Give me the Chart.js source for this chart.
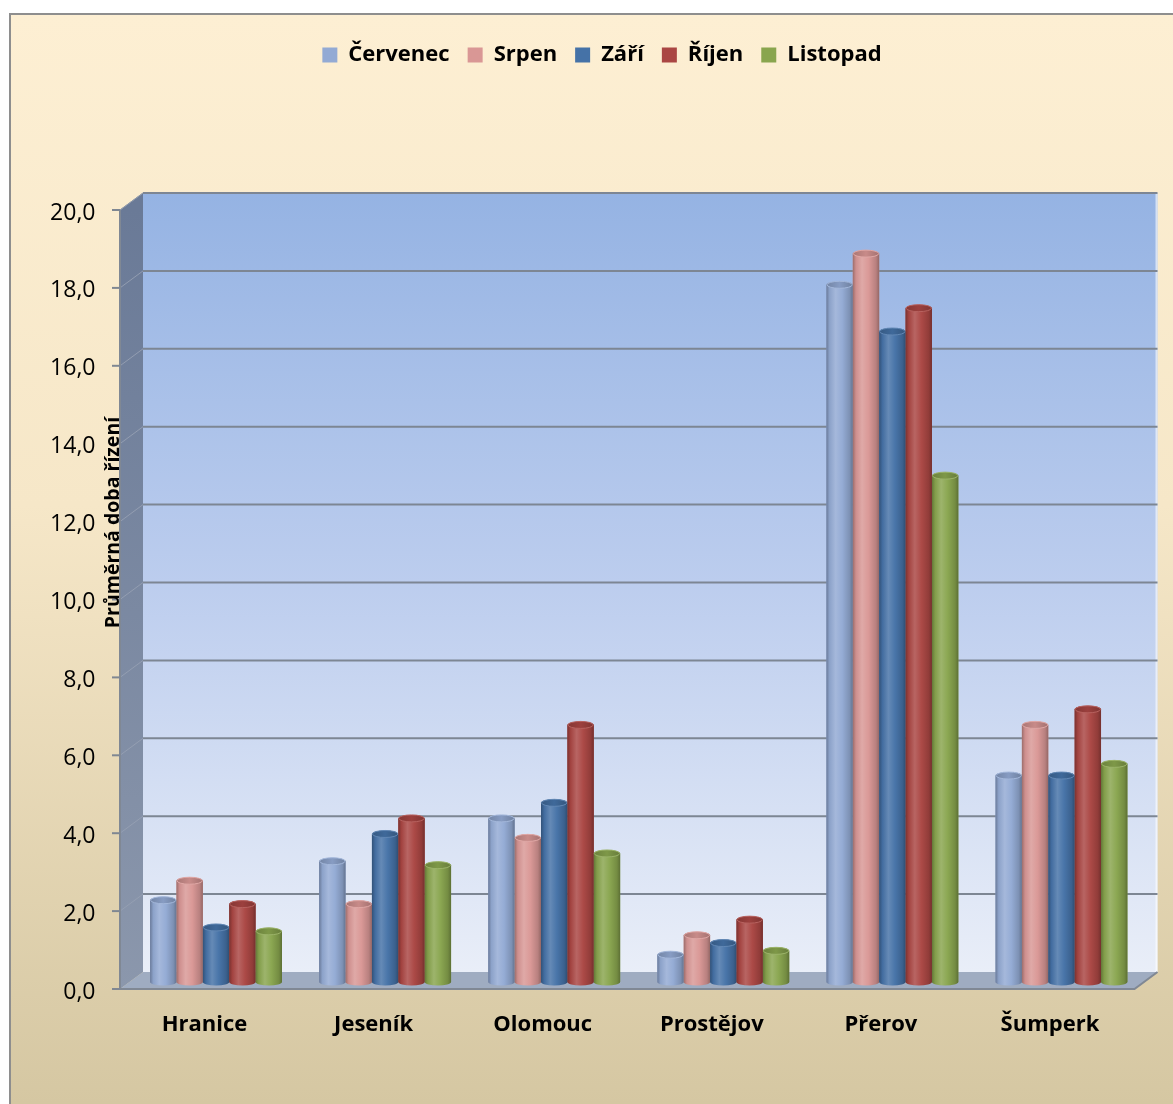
<!DOCTYPE html>
<html lang="cs">
<head>
<meta charset="utf-8">
<title>Průměrná doba řízení</title>
<script src="https://cdn.jsdelivr.net/npm/chart.js@4.4.1/dist/chart.umd.min.js"></script>
<style>
  html, body { margin: 0; padding: 0; background: #fff; }
  canvas { display: block; }
</style>
</head>
<body>
<canvas id="chart" width="1173" height="1104"></canvas>
<script>
// ---- data ----
const categories = ['Hranice', 'Jeseník', 'Olomouc', 'Prostějov', 'Přerov', 'Šumperk'];
const months = ['Červenec', 'Srpen', 'Září', 'Říjen', 'Listopad'];
const cervenec = [2.1, 3.1, 4.2, 0.7, 17.9, 5.3];
const srpen    = [2.6, 2.0, 3.7, 1.2, 18.7, 6.6];
const zari     = [1.4, 3.8, 4.6, 1.0, 16.7, 5.3];
const rijen    = [2.0, 4.2, 6.6, 1.6, 17.3, 7.0];
const listopad = [1.3, 3.0, 3.3, 0.8, 13.0, 5.6];
const yTicks = [0, 2, 4, 6, 8, 10, 12, 14, 16, 18, 20];
const axisTitle = 'Průměrná doba řízení';

// ---- styling ----
const FONT = "'Open Sans', 'DejaVu Sans', sans-serif";
const seriesColors = ['#93AAD4', '#D99795', '#4572A7', '#AA4643', '#89A54E'];
const DEPTH_X = 23;      // horizontal depth of the 3D box
const DEPTH_Y = 17;      // vertical depth of the 3D box
const BAR_SHIFT = 0.18;  // columns stand mid-depth, slightly above the front floor edge
const CAP_RY = 3.5;      // vertical radius of the column caps
const FRAME = { x: 10, y: 14 };
const LEGEND_CENTER_X = 602;

const fmt = v => v.toFixed(1).replace('.', ',');

function shade(hex, amt) {
  const n = parseInt(hex.slice(1), 16);
  const ch = [n >> 16, (n >> 8) & 255, n & 255];
  const t = amt < 0 ? 0 : 255, p = Math.abs(amt);
  const [r, g, b] = ch.map(c => Math.round(c + (t - c) * p));
  return `rgb(${r},${g},${b})`;
}

const seriesData = [cervenec, srpen, zari, rijen, listopad];

// Draws the 3D box (walls, floor, grid), the axis title and cylinder columns.
const scene3d = {
  id: 'scene3d',
  afterInit(chart) {
    const lg = chart.legend;
    if (!lg) return;
    const fit = lg.fit.bind(lg);
    lg.fit = function () { fit(); this.height = 184; };
  },
  afterLayout(chart) {
    const lg = chart.legend;
    if (!lg) return;
    const shift = LEGEND_CENTER_X - (lg.left + lg.right) / 2;
    lg.left += shift; lg.right += shift;
  },
  beforeDraw(chart) {
    const { ctx, chartArea: a, scales: { y } } = chart;
    const W = chart.width, H = chart.height;
    ctx.save();
    ctx.fillStyle = '#ffffff';
    ctx.fillRect(0, 0, W, H);

    // outer frame
    const bg = ctx.createLinearGradient(0, FRAME.y, 0, H);
    bg.addColorStop(0, '#FDEFD3');
    bg.addColorStop(0.45, '#F6E7C8');
    bg.addColorStop(1, '#D5C7A2');
    ctx.fillStyle = bg;
    ctx.fillRect(FRAME.x, FRAME.y, W, H);
    ctx.strokeStyle = '#8E8E8E';
    ctx.lineWidth = 2;
    ctx.strokeRect(FRAME.x, FRAME.y, W + 10, H + 10);

    const y0 = y.getPixelForValue(0), yTop = y.getPixelForValue(20);
    const fl = a.left - DEPTH_X / 2, bl = a.left + DEPTH_X / 2;
    const br = a.right + DEPTH_X / 2, fr = a.right - DEPTH_X / 2;

    // back wall
    const wg = ctx.createLinearGradient(0, yTop - DEPTH_Y, 0, y0 - DEPTH_Y);
    wg.addColorStop(0, '#95B3E3');
    wg.addColorStop(0.5, '#BCCDEE');
    wg.addColorStop(1, '#E9EEF8');
    ctx.fillStyle = wg;
    ctx.fillRect(bl, yTop - DEPTH_Y, br - bl, y0 - yTop);
    ctx.fillStyle = 'rgba(255,255,255,0.6)';
    ctx.fillRect(br - 2, yTop - DEPTH_Y, 2, y0 - yTop);

    // side wall
    const sg = ctx.createLinearGradient(0, yTop, 0, y0);
    sg.addColorStop(0, '#6A7A97');
    sg.addColorStop(1, '#8B97AC');
    ctx.fillStyle = sg;
    ctx.beginPath();
    ctx.moveTo(fl, yTop); ctx.lineTo(bl, yTop - DEPTH_Y);
    ctx.lineTo(bl, y0 - DEPTH_Y); ctx.lineTo(fl, y0);
    ctx.closePath(); ctx.fill();

    // floor
    ctx.fillStyle = '#9FACC1';
    ctx.beginPath();
    ctx.moveTo(fl, y0); ctx.lineTo(bl, y0 - DEPTH_Y);
    ctx.lineTo(br, y0 - DEPTH_Y); ctx.lineTo(fr, y0);
    ctx.closePath(); ctx.fill();

    // grid lines on the back wall, and their traces on the side wall
    yTicks.forEach(v => {
      const py = y.getPixelForValue(v);
      if (v > 0) {
        ctx.strokeStyle = '#7D8693';
        ctx.lineWidth = 2;
        ctx.beginPath();
        ctx.moveTo(bl, py - DEPTH_Y); ctx.lineTo(br, py - DEPTH_Y);
        ctx.stroke();
        ctx.strokeStyle = 'rgba(150,160,178,0.9)';
        ctx.lineWidth = 1;
        ctx.beginPath();
        ctx.moveTo(fl, py); ctx.lineTo(bl, py - DEPTH_Y);
        ctx.stroke();
      }
      // tick marks
      ctx.strokeStyle = '#7F8792';
      ctx.lineWidth = 2;
      ctx.beginPath();
      ctx.moveTo(fl - 8, py); ctx.lineTo(fl, py);
      ctx.stroke();
    });

    // box edges
    ctx.strokeStyle = '#808894';
    ctx.lineWidth = 2;
    ctx.beginPath();
    ctx.moveTo(fl, yTop); ctx.lineTo(fl, y0); ctx.lineTo(fr, y0); ctx.lineTo(br, y0 - DEPTH_Y);
    ctx.stroke();
    ctx.strokeStyle = 'rgba(140,150,165,0.9)';
    ctx.lineWidth = 1;
    ctx.beginPath();
    ctx.moveTo(fl, yTop); ctx.lineTo(bl, yTop - DEPTH_Y);
    ctx.stroke();

    // axis title
    ctx.translate(119, 522.5);
    ctx.rotate(-Math.PI / 2);
    ctx.font = `bold 19.5px ${FONT}`;
    ctx.fillStyle = '#000';
    ctx.textAlign = 'center';
    ctx.textBaseline = 'alphabetic';
    ctx.fillText(axisTitle, 0, 0);
    ctx.restore();
  },
  afterDatasetsDraw(chart) {
    const { ctx } = chart;
    ctx.save();
    chart.data.datasets.forEach((ds, di) => {
      const c = seriesColors[di];
      chart.getDatasetMeta(di).data.forEach(el => {
        const { x, y: top, base, width } = el.getProps(['x', 'y', 'base', 'width'], true);
        const l = x - width / 2, r = x + width / 2, rx = width / 2;
        const g = ctx.createLinearGradient(l, 0, r, 0);
        g.addColorStop(0, shade(c, -0.28));
        g.addColorStop(0.12, shade(c, -0.05));
        g.addColorStop(0.35, shade(c, 0.17));
        g.addColorStop(0.6, shade(c, 0.02));
        g.addColorStop(0.88, shade(c, -0.15));
        g.addColorStop(1, shade(c, -0.32));
        ctx.fillStyle = g;
        ctx.beginPath();
        ctx.moveTo(l, top);
        ctx.lineTo(l, base);
        ctx.ellipse(x, base, rx, CAP_RY, 0, Math.PI, 0, true);
        ctx.lineTo(r, top);
        ctx.ellipse(x, top, rx, CAP_RY, 0, 0, Math.PI, true);
        ctx.closePath();
        ctx.fill();
        // cap
        const cg = ctx.createLinearGradient(l, 0, r, 0);
        cg.addColorStop(0, shade(c, -0.22));
        cg.addColorStop(0.5, shade(c, -0.08));
        cg.addColorStop(1, shade(c, -0.25));
        ctx.fillStyle = cg;
        ctx.strokeStyle = shade(c, 0.15);
        ctx.lineWidth = 1;
        ctx.beginPath();
        ctx.ellipse(x, top, rx - 0.5, CAP_RY, 0, 0, Math.PI * 2);
        ctx.fill();
        ctx.stroke();
      });
    });
    ctx.restore();
  }
};

const chart = new Chart(document.getElementById('chart'), {
  type: 'bar',
  data: {
    labels: categories,
    datasets: months.map((m, i) => ({
      label: m,
      data: seriesData[i],
      backgroundColor: seriesColors[i],
      borderWidth: 0,
      yAxisID: 'yb',
      categoryPercentage: 0.78,
      barPercentage: 1.0
    }))
  },
  options: {
    responsive: false,
    animation: false,
    events: [],
    layout: { padding: { top: 26, right: 27, bottom: 0, left: 0 } },
    plugins: {
      tooltip: { enabled: false },
      legend: {
        position: 'top',
        align: 'center',
        labels: {
          font: { family: FONT, size: 22, weight: 'bold' },
          color: '#000',
          boxWidth: 15,
          boxHeight: 15,
          padding: 18,
          generateLabels: ch => ch.data.datasets.map((ds, i) => ({
            text: ds.label,
            fillStyle: seriesColors[i],
            strokeStyle: seriesColors[i],
            lineWidth: 0,
            hidden: false,
            datasetIndex: i
          }))
        }
      }
    },
    scales: {
      x: {
        type: 'category',
        grid: { display: false, drawTicks: false },
        border: { display: false },
        ticks: {
          font: { family: FONT, size: 22, weight: 'bold' },
          color: '#000',
          padding: 23,
          labelOffset: -11.5,
          maxRotation: 0,
          autoSkip: false
        },
        afterFit(s) { s.height = 115; }
      },
      y: {
        type: 'linear',
        position: 'left',
        min: 0,
        max: 20,
        afterBuildTicks(s) { s.ticks = yTicks.map(v => ({ value: v })); },
        grid: { display: false, drawTicks: false },
        border: { display: false },
        ticks: {
          callback: v => fmt(v),
          font: { family: FONT, size: 23 },
          color: '#000',
          padding: 36,
          labelOffset: 3
        },
        afterFit(s) { s.width = 131.5; }
      },
      yb: {
        type: 'linear',
        display: false,
        min: -BAR_SHIFT,
        max: 20 - BAR_SHIFT
      }
    }
  },
  plugins: [scene3d]
});
</script>
</body>
</html>
